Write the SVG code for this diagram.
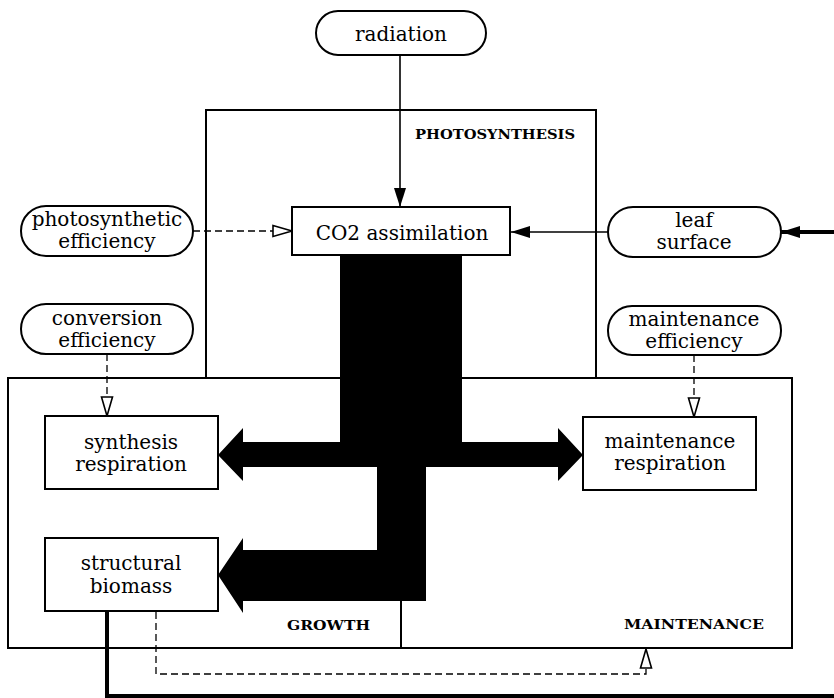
<svg xmlns="http://www.w3.org/2000/svg" width="834" height="698" viewBox="0 0 834 698">
<style>
.box{fill:#fff;stroke:#000;stroke-width:2}
.frame{fill:none;stroke:#000;stroke-width:2}
.t{font-family:"DejaVu Serif","Liberation Serif",serif;font-size:20px;text-anchor:middle;fill:#000}
.lab{font-family:"DejaVu Serif","Liberation Serif",serif;font-size:12.5px;font-weight:bold;fill:#000}
.solid{fill:none;stroke:#000;stroke-width:1.6}
.thick{fill:none;stroke:#000;stroke-width:4}
.dash{fill:none;stroke:#000;stroke-width:1.3;stroke-dasharray:7 4}
</style>
<defs>
<marker id="fill" markerWidth="20" markerHeight="12" refX="19" refY="6" orient="auto" markerUnits="userSpaceOnUse">
<path d="M0,0 L19,6 L0,12 Z" fill="#000"/>
</marker>
<marker id="hollow" markerWidth="22" markerHeight="14" refX="20" refY="7" orient="auto" markerUnits="userSpaceOnUse">
<path d="M1,1.5 L20,7 L1,12.5 Z" fill="#fff" stroke="#000" stroke-width="1.6"/>
</marker>
</defs>

<g id="photosynthesis-frame">
<rect class="frame" x="206" y="110" width="390" height="268"/>
<text class="lab" x="415" y="139" textLength="160" lengthAdjust="spacingAndGlyphs">PHOTOSYNTHESIS</text>
</g>
<g id="growth-maintenance-frame">
<rect class="frame" x="8" y="378" width="784" height="270"/>
<line class="frame" x1="401" y1="601" x2="401" y2="648"/>
<text class="lab" x="287" y="630" textLength="83" lengthAdjust="spacingAndGlyphs">GROWTH</text>
<text class="lab" x="624" y="629" textLength="140" lengthAdjust="spacingAndGlyphs">MAINTENANCE</text>
</g>

<g id="connectors">
<path id="flow" d="M340,256 L462,256 L462,442 L558,442 L558,428 L583,455 L558,481 L558,467 L426,467 L426,601 L243,601 L243,613 L218,575 L243,538 L243,550 L377,550 L377,467 L243,467 L243,481 L218,455 L243,428 L243,442 L340,442 Z" fill="#000"/>
<line class="solid" x1="400" y1="55" x2="400" y2="207" marker-end="url(#fill)"/>
<line class="solid" x1="608" y1="232" x2="511" y2="232" marker-end="url(#fill)"/>
<line class="thick" x1="834" y1="232" x2="781" y2="232" marker-end="url(#fill)"/>
<line class="dash" x1="193" y1="231" x2="292" y2="231" marker-end="url(#hollow)"/>
<line class="dash" x1="107" y1="354" x2="107" y2="416" marker-end="url(#hollow)"/>
<line class="dash" x1="694" y1="355" x2="694" y2="417" marker-end="url(#hollow)"/>
<path class="dash" d="M156,612 L156,674 L646,674 L646,649" marker-end="url(#hollow)"/>
<path class="thick" d="M107,611 L107,696 L834,696"/>
</g>

<g id="radiation">
<rect class="box" x="316" y="11" width="170" height="44" rx="22"/>
<text class="t" x="401" y="41">radiation</text>
</g>
<g id="co2-assimilation">
<rect class="box" x="292" y="207" width="218" height="48"/>
<text class="t" x="402" y="240">CO2 assimilation</text>
</g>
<g id="photosynthetic-efficiency">
<rect class="box" x="21" y="206" width="172" height="50" rx="25"/>
<text class="t" x="107" y="226">photosynthetic</text>
<text class="t" x="107" y="248">efficiency</text>
</g>
<g id="leaf-surface">
<rect class="box" x="608" y="207" width="173" height="50" rx="25"/>
<text class="t" x="694" y="227">leaf</text>
<text class="t" x="694" y="249">surface</text>
</g>
<g id="conversion-efficiency">
<rect class="box" x="21" y="304" width="172" height="50" rx="25"/>
<text class="t" x="107" y="325">conversion</text>
<text class="t" x="107" y="347">efficiency</text>
</g>
<g id="maintenance-efficiency">
<rect class="box" x="608" y="306" width="173" height="49" rx="24"/>
<text class="t" x="694" y="326">maintenance</text>
<text class="t" x="694" y="348">efficiency</text>
</g>
<g id="synthesis-respiration">
<rect class="box" x="45" y="416" width="173" height="73"/>
<text class="t" x="131" y="449">synthesis</text>
<text class="t" x="131" y="471">respiration</text>
</g>
<g id="structural-biomass">
<rect class="box" x="45" y="538" width="173" height="73"/>
<text class="t" x="131" y="570">structural</text>
<text class="t" x="131" y="593">biomass</text>
</g>
<g id="maintenance-respiration">
<rect class="box" x="583" y="417" width="173" height="73"/>
<text class="t" x="670" y="448">maintenance</text>
<text class="t" x="670" y="470">respiration</text>
</g>
</svg>
